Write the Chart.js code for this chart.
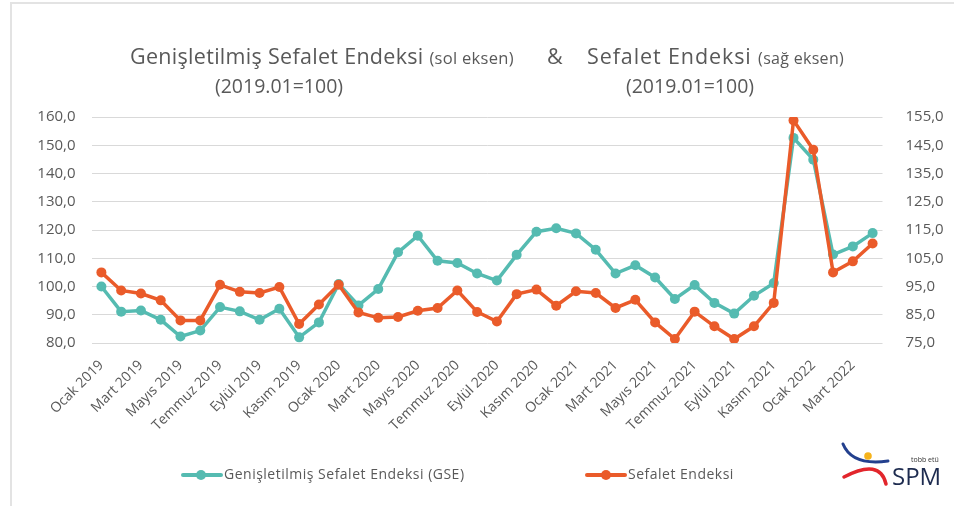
<!DOCTYPE html>
<html>
<head>
<meta charset="utf-8">
<script src="https://cdn.jsdelivr.net/npm/chart.js@4.4.1/dist/chart.umd.min.js"></script>
<style>
    html, body { margin: 0; padding: 0; background: #fff; }
    #wrap { position: relative; width: 954px; height: 506px; overflow: hidden; font-family: "Open Sans", sans-serif; color: #595959; }
    #frame { position: absolute; left: 10px; top: 2px; width: 1000px; height: 600px; border-left: 2px solid #e3e3e3; border-top: 2px solid #e3e3e3; }
    canvas { position: absolute; left: 0; top: 0; }
    .t { position: absolute; white-space: pre; line-height: 1; }
    .line1 { top: 45px; }
    .big { font-size: 21.5px; letter-spacing: 0.3px; }
    .small { font-size: 16.5px; letter-spacing: 0.3px; }
    .sub { font-size: 19.5px; top: 76px; width: 160px; text-align: center; }
    .leg { position: absolute; top: 465px; font-size: 14px; letter-spacing: 0.5px; white-space: pre; line-height: 18px; }
    .mk { position: absolute; top: 473px; height: 4px; width: 42px; border-radius: 2px; }
    .dot { position: absolute; top: 470px; width: 10px; height: 10px; border-radius: 5px; }
</style>
</head>
<body>
<div id="wrap">
    <div id="frame"></div>
    <canvas id="chart" width="954" height="506"></canvas>

    <div class="t line1" style="left:130px;"><span class="big">Genişletilmiş Sefalet Endeksi </span><span class="small">(sol eksen)</span></div>
    <div class="t line1 big" style="left:547px;">&amp;</div>
    <div class="t line1" style="left:587px;"><span class="big" style="letter-spacing:0.9px;">Sefalet Endeksi </span><span class="small" style="font-size:16px;">(sağ eksen)</span></div>
    <div class="t sub" style="left:199px;">(2019.01=100)</div>
    <div class="t sub" style="left:610px;">(2019.01=100)</div>

    <div class="mk" style="left:181px; background:#55bbb1;"></div>
    <div class="dot" style="left:196px; background:#55bbb1;"></div>
    <div class="leg" style="left:224px;">Genişletilmiş Sefalet Endeksi (GSE)</div>
    <div class="mk" style="left:585px; background:#ea5b2a;"></div>
    <div class="dot" style="left:601px; background:#ea5b2a;"></div>
    <div class="leg" style="left:628px;">Sefalet Endeksi</div>
</div>
<script>
// months Ocak 2019 .. Nisan 2022
const months = ['Ocak', 'Şubat', 'Mart', 'Nisan', 'Mayıs', 'Haziran', 'Temmuz', 'Ağustos', 'Eylül', 'Ekim', 'Kasım', 'Aralık'];
const years = [2019, 2020, 2021, 2022];
const categories = [];
years.forEach(y => months.forEach(m => categories.push(m + ' ' + y)));
categories.length = 40;

// Genişletilmiş Sefalet Endeksi (left axis)
const gseValues = [100.0, 91.1, 91.5, 88.2, 82.3, 84.4, 92.7, 91.2, 88.2, 92.1, 82.0, 87.3,
    100.9, 93.3, 99.1, 112.1, 118.0, 109.1, 108.3, 104.6, 102.1, 111.2, 119.4, 120.6,
    118.8, 113.0, 104.6, 107.5, 103.2, 95.6, 100.5, 94.2, 90.4, 96.7, 101.2, 152.6,
    144.9, 111.3, 114.2, 118.9];

// Sefalet Endeksi (right axis)
const seValues = [100.0, 93.6, 92.5, 90.1, 83.0, 83.0, 95.6, 93.1, 92.7, 94.8, 81.7, 88.6,
    95.6, 85.8, 83.9, 84.2, 86.4, 87.4, 93.6, 86.0, 82.6, 92.3, 93.9, 88.2,
    93.3, 92.7, 87.4, 90.3, 82.3, 76.4, 86.1, 80.9, 76.4, 80.9, 89.2, 153.8,
    143.4, 100.0, 103.9, 110.2];

const leftTicks = { min: 80, max: 160, step: 10 };
const rightTicks = { min: 75, max: 155, step: 10 };

const TEAL = '#55bbb1';
const ORANGE = '#ea5b2a';
const GREY = '#595959';

const fmt = v => v.toFixed(1).replace('.', ',');

// small drawing of the tobb etü SPM logo
const logoPlugin = {
    id: 'logo',
    afterDraw(chart) {
        const ctx = chart.ctx;
        ctx.save();
        ctx.lineCap = 'round';
        // blue swoosh
        ctx.strokeStyle = '#23408e';
        ctx.lineWidth = 3;
        ctx.beginPath();
        ctx.moveTo(843, 444);
        ctx.quadraticCurveTo(852, 466, 888, 461);
        ctx.stroke();
        // yellow dot
        ctx.fillStyle = '#f6b31c';
        ctx.beginPath();
        ctx.arc(868, 456, 3.8, 0, Math.PI * 2);
        ctx.fill();
        // red swoosh
        ctx.strokeStyle = '#e2262c';
        ctx.lineWidth = 3.5;
        ctx.beginPath();
        ctx.moveTo(844, 477);
        ctx.quadraticCurveTo(880, 458, 886, 484);
        ctx.stroke();
        // texts
        ctx.fillStyle = '#333';
        ctx.font = '7px "Open Sans"';
        ctx.textBaseline = 'alphabetic';
        ctx.fillText('tobb etü', 911, 462);
        ctx.fillStyle = '#1d2b4f';
        ctx.font = '24px "Open Sans"';
        ctx.fillText('SPM', 892, 485);
        ctx.restore();
    }
};

new Chart(document.getElementById('chart').getContext('2d'), {
    type: 'line',
    data: {
        labels: categories,
        datasets: [{
            label: 'Genişletilmiş Sefalet Endeksi (GSE)',
            data: gseValues,
            yAxisID: 'y',
            borderColor: TEAL,
            backgroundColor: TEAL,
            borderWidth: 3.5,
            pointRadius: 5,
            pointBorderWidth: 0,
            tension: 0,
            order: 1
        }, {
            label: 'Sefalet Endeksi',
            data: seValues,
            yAxisID: 'y1',
            borderColor: ORANGE,
            backgroundColor: ORANGE,
            borderWidth: 3.5,
            pointRadius: 5,
            pointBorderWidth: 0,
            tension: 0,
            order: 0
        }]
    },
    options: {
        responsive: false,
        animation: false,
        layout: { padding: { top: 117, left: 0, right: 0, bottom: 0 } },
        plugins: {
            legend: { display: false },
            tooltip: { enabled: false }
        },
        scales: {
            x: {
                offset: true,
                grid: { display: false },
                border: { display: false },
                afterFit(scale) { scale.height = 163; },
                ticks: {
                    autoSkip: false,
                    maxRotation: 45,
                    minRotation: 45,
                    padding: 6,
                    color: GREY,
                    font: { family: 'Open Sans', size: 14 },
                    callback: (v, i) => i % 2 === 0 ? categories[i] : ''
                }
            },
            y: {
                position: 'left',
                min: leftTicks.min,
                max: leftTicks.max,
                afterFit(scale) { scale.width = 91.5; },
                grid: { color: '#d9d9d9', lineWidth: 1, drawTicks: false },
                border: { display: false },
                ticks: {
                    stepSize: leftTicks.step,
                    padding: 16,
                    color: GREY,
                    font: { family: 'Open Sans', size: 15 },
                    callback: v => fmt(v)
                }
            },
            y1: {
                position: 'right',
                min: rightTicks.min,
                max: rightTicks.max,
                afterFit(scale) { scale.width = 71.5; },
                grid: { display: false, drawTicks: false },
                border: { display: false },
                ticks: {
                    stepSize: rightTicks.step,
                    padding: 23,
                    color: GREY,
                    font: { family: 'Open Sans', size: 15 },
                    callback: v => fmt(v)
                }
            }
        }
    },
    plugins: [logoPlugin]
});
</script>
</body>
</html>
